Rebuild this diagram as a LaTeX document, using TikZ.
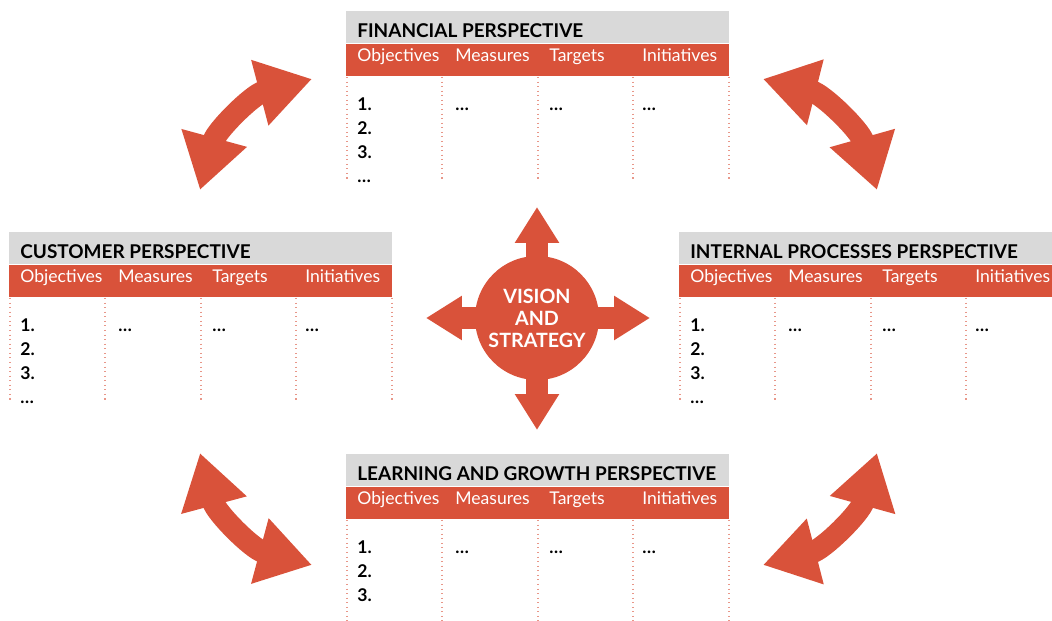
\documentclass[tikz,border=0pt]{standalone}
\usepackage{fontspec}
\setmainfont{Lato}
\usetikzlibrary{arrows.meta}
\definecolor{bscred}{RGB}{217,82,58}
\definecolor{bscgray}{RGB}{217,217,217}

% one perspective table: name, x, y, title, objective rows
\newcommand\perspective[5]{%
  \node[bar, fill=bscgray] (#1) at (#2,#3) {};
  \node[bar, fill=bscred] (#1-head) at (#1.south west) {};
  \node[titletxt] (#1-title) at (#2+11,#3+27) {#4};
  \foreach \lbl/\cx [count=\k] in {Objectives/11,Measures/109,Targets/203,Initiatives/296}
    \node[headtxt] (#1-h\k) at (#2+\cx,#3+51) {\lbl};
  \foreach \cx in {1,96,192,287,383}
    \draw[sep] (#2+\cx,#3+66) -- (#2+\cx,#3+171);
  \foreach \r [count=\k] in {#5}
    \node[itemtxt] (#1-r\k) at (#2+11,#3+76+24*\k) {\r};
  \foreach \cx [count=\k] in {109,203,296}
    \node[itemtxt] (#1-d\k) at (#2+\cx,#3+100) {\ldots};
}

\begin{document}
\begin{tikzpicture}[x=0.02cm, y=-0.02cm,
    bar/.style={minimum width=7.66cm, minimum height=0.64cm, inner sep=0pt, anchor=north west},
    titletxt/.style={anchor=base west, inner sep=0pt, font=\bfseries\fontsize{10.8}{12}\selectfont},
    headtxt/.style={anchor=base west, inner sep=0pt, text=white, font=\fontsize{10}{12}\selectfont},
    itemtxt/.style={anchor=base west, inner sep=0pt, font=\bfseries\fontsize{10}{12}\selectfont},
    sep/.style={draw=bscred!60, dotted, line width=0.6pt},
    spoke/.style={draw=bscred, line width=0.44cm, -{Triangle[length=0.72cm, width=0.84cm]}},
    swing/.style={draw=bscred, line width=0.44cm,
      {Triangle[length=1.08cm, width=1.28cm]}-{Triangle[length=1.08cm, width=1.28cm]}}]
  \useasboundingbox (0,0) rectangle (1052,621);

  % Las cuatro perspectivas
  \perspective{fin}{346}{11}{FINANCIAL PERSPECTIVE}{1.,2.,3.,\ldots}
  \perspective{cust}{9}{232}{CUSTOMER PERSPECTIVE}{1.,2.,3.,\ldots}
  \perspective{proc}{679}{232}{INTERNAL PROCESSES PERSPECTIVE}{1.,2.,3.,\ldots}
  \perspective{learn}{346}{454}{LEARNING AND GROWTH PERSPECTIVE}{1.,2.,3.}

  % Centro: vision y estrategia con flechas hacia fuera
  \coordinate (hub) at (537,318);
  \coordinate (hub-n) at (537,207);
  \coordinate (hub-s) at (537,430);
  \coordinate (hub-w) at (426,318);
  \coordinate (hub-e) at (650,318);
  \draw[spoke] (hub) -- (hub-n);
  \draw[spoke] (hub) -- (hub-s);
  \draw[spoke] (hub) -- (hub-w);
  \draw[spoke] (hub) -- (hub-e);
  \node[circle, fill=bscred, minimum size=2.48cm, inner sep=0pt, text=white,
    align=center, font=\bfseries\fontsize{11.2}{12.5}\selectfont] (vision) at (hub)
    {VISION\\AND\\STRATEGY};

  % Flechas dobles curvas entre perspectivas
  \coordinate (tl-a) at (200,190);
  \coordinate (tl-b) at (312,79);
  \coordinate (tr-a) at (763,79);
  \coordinate (tr-b) at (877,190);
  \coordinate (bl-a) at (200,453);
  \coordinate (bl-b) at (312,565);
  \coordinate (br-a) at (763,565);
  \coordinate (br-b) at (877,453);
  \draw[swing] (tl-a) to[bend left=30] (tl-b);
  \draw[swing] (tr-a) to[bend left=30] (tr-b);
  \draw[swing] (bl-a) to[bend right=30] (bl-b);
  \draw[swing] (br-a) to[bend right=30] (br-b);

\end{tikzpicture}
\end{document}
